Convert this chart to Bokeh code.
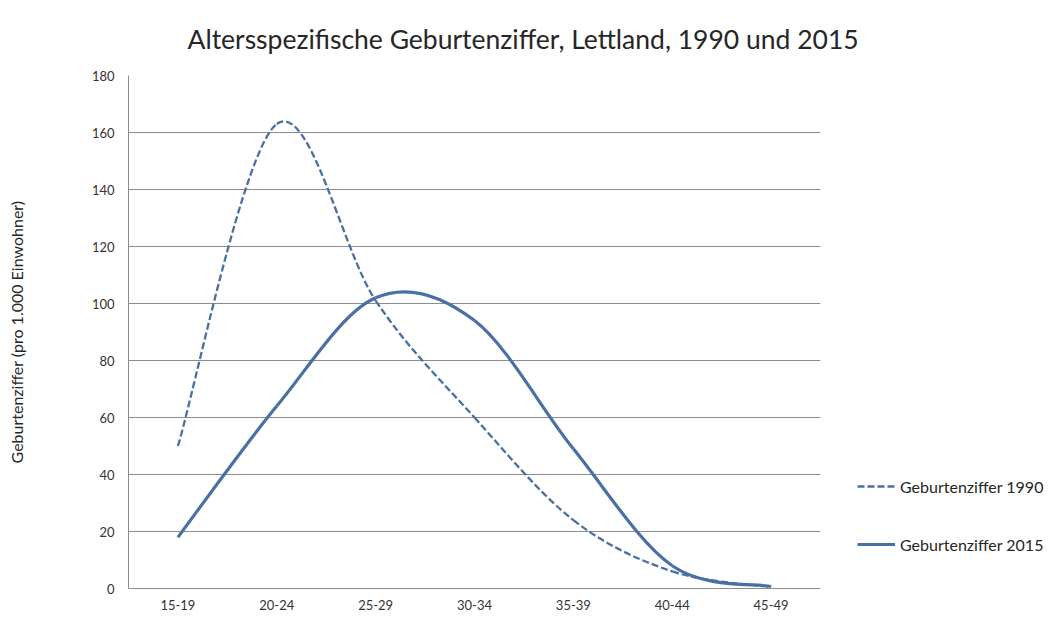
from bokeh.plotting import figure
from bokeh.models import Range1d, FixedTicker, Legend, LegendItem
from bokeh.embed import file_html
from bokeh.resources import INLINE

# ---- data ----
categories = ["15-19", "20-24", "25-29", "30-34", "35-39", "40-44", "45-49"]
rate_1990 = [50, 163, 101, 60, 24, 6, 0.5]
rate_2015 = [18, 64, 102, 94, 49, 8, 0.7]
y_ticks = [0, 20, 40, 60, 80, 100, 120, 140, 160, 180]

title_text = "Altersspezifische Geburtenziffer, Lettland, 1990 und 2015"
y_label = "Geburtenziffer (pro 1.000 Einwohner)"
series_labels = ["Geburtenziffer 1990", "Geburtenziffer 2015"]

FONT = "Lato"
COLOR = "#4870A4"
GRID = "#8C8C8C"


def smooth_segments(values, t=1.0 / 6.0):
    """Bezier control points (Catmull-Rom style, like Excel's smoothed line)."""
    n = len(values)
    xs = list(range(n))
    d = dict(x0=[], y0=[], x1=[], y1=[], cx0=[], cy0=[], cx1=[], cy1=[])
    for i in range(n - 1):
        im1 = max(i - 1, 0)
        ip2 = min(i + 2, n - 1)
        d["x0"].append(xs[i]); d["y0"].append(values[i])
        d["x1"].append(xs[i + 1]); d["y1"].append(values[i + 1])
        d["cx0"].append(xs[i] + (xs[i + 1] - xs[im1]) * t)
        d["cy0"].append(values[i] + (values[i + 1] - values[im1]) * t)
        d["cx1"].append(xs[i + 1] - (xs[ip2] - xs[i]) * t)
        d["cy1"].append(values[i + 1] - (values[ip2] - values[i]) * t)
    return d


p = figure(
    frame_width=692, frame_height=513,
    output_backend="svg", toolbar_location=None,
    x_range=Range1d(-0.5, len(categories) - 0.5),
    y_range=Range1d(0, 180),
    min_border_left=128, min_border_right=10,
    min_border_top=75, min_border_bottom=29,
)
p.outline_line_color = None
p.background_fill_color = "white"
p.border_fill_color = "white"

# title
p.title.text = title_text
p.title.align = "left"
p.title.offset = 59
p.title.text_font = FONT
p.title.text_font_size = "26.5px"
p.title.text_font_style = "normal"
p.title.text_color = "#262626"
p.title.standoff = 38
p.title.vertical_align = "top"

# axes
p.xaxis.ticker = FixedTicker(ticks=list(range(len(categories))))
p.xaxis.major_label_overrides = {i: c for i, c in enumerate(categories)}
p.yaxis.ticker = FixedTicker(ticks=y_ticks)
for ax in (p.xaxis[0], p.yaxis[0]):
    ax.axis_line_color = GRID
    ax.major_tick_line_color = None
    ax.minor_tick_line_color = None
    ax.major_tick_in = 0
    ax.major_tick_out = 0
    ax.minor_tick_in = 0
    ax.minor_tick_out = 0
    ax.major_label_text_font = FONT
    ax.major_label_text_font_size = "13px"
    ax.major_label_text_color = "#333333"
p.xaxis.major_label_standoff = 11
p.yaxis.major_label_standoff = 14
p.yaxis.axis_label = y_label
p.yaxis.axis_label_text_font = FONT
p.yaxis.axis_label_text_font_size = "16px"
p.yaxis.axis_label_text_font_style = "normal"
p.yaxis.axis_label_text_color = "#262626"
p.yaxis.axis_label_standoff = 63

p.xgrid.grid_line_color = None
p.ygrid.grid_line_color = GRID
p.ygrid.grid_line_width = 1

# series
s1 = smooth_segments(rate_1990)
s2 = smooth_segments(rate_2015)
r1 = p.bezier(source=s1, x0="x0", y0="y0", x1="x1", y1="y1",
              cx0="cx0", cy0="cy0", cx1="cx1", cy1="cy1",
              line_color=COLOR, line_width=2.3, line_dash="7 3")
r2 = p.bezier(source=s2, x0="x0", y0="y0", x1="x1", y1="y1",
              cx0="cx0", cy0="cy0", cx1="cx1", cy1="cy1",
              line_color=COLOR, line_width=3.2)

legend = Legend(
    items=[LegendItem(label=series_labels[0], renderers=[r1]),
           LegendItem(label=series_labels[1], renderers=[r2])],
    location=(37, 34), orientation="vertical",
    glyph_width=38, glyph_height=20, spacing=38,
    padding=0, margin=0, label_standoff=5,
    border_line_color=None, background_fill_alpha=0,
    label_text_font=FONT, label_text_font_size="16px",
    label_text_color="#262626",
)
p.add_layout(legend, "right")

open("out.html", "w").write(file_html(p, INLINE))
